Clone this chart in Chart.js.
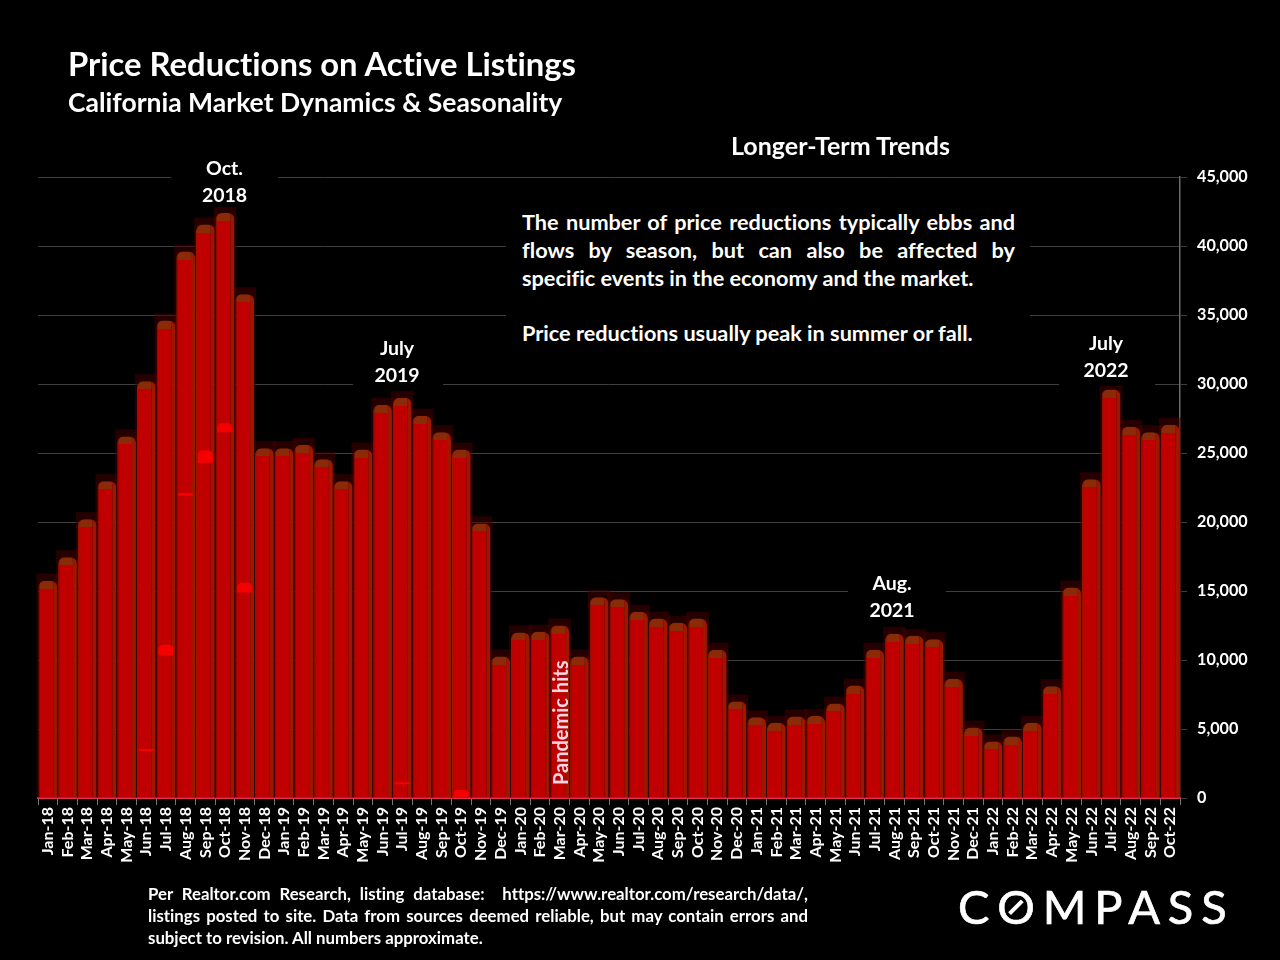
<!DOCTYPE html>
<html><head><meta charset="utf-8">
<script src="https://cdn.jsdelivr.net/npm/chart.js@4/dist/chart.umd.min.js"></script>
<style>
html,body{margin:0;padding:0;background:#000;width:1280px;height:960px;overflow:hidden}
#wrap{position:relative;width:1280px;height:960px;font-family:Lato,Carlito,sans-serif;color:#fff;font-weight:700;font-variant-ligatures:none}
canvas{position:absolute;left:0;top:0}
.t{position:absolute;white-space:nowrap}
.box{position:absolute;background:#000}
.c{text-align:center;font-size:19.5px}
.j{text-align:justify;text-align-last:justify;white-space:normal}
.logo{font-weight:400;font-size:47px;line-height:47px;letter-spacing:7.9px;-webkit-text-stroke:.7px #fff}
.o{position:relative;display:inline-block}
.o i{position:absolute;left:50%;top:50%;width:3.5px;height:18px;margin:-9px 0 0 -6px;background:#fff;transform:rotate(45deg)}
</style></head><body><div id="wrap">
<canvas id="c" width="1280" height="960"></canvas>
<div class="t" style="left:68px;top:46px;font-size:32.8px;line-height:36px">Price Reductions on Active Listings</div>
<div class="t" style="left:68px;top:87px;font-size:26.5px;line-height:30px">California Market Dynamics &amp; Seasonality</div>
<div class="t" style="left:731px;top:130px;font-size:25px;line-height:30px">Longer-Term Trends</div>

<div class="box" style="left:171px;top:155px;width:107px;height:52px"></div>
<div class="t c" style="left:171px;width:107px;top:154px;line-height:27px">Oct.<br>2018</div>
<div class="box" style="left:353px;top:335px;width:90px;height:52px"></div>
<div class="t c" style="left:352px;width:90px;top:334px;line-height:27px">July<br>2019</div>
<div class="box" style="left:848px;top:570px;width:98px;height:52px"></div>
<div class="t c" style="left:843px;width:98px;top:569px;line-height:27px">Aug.<br>2021</div>
<div class="box" style="left:1059px;top:330px;width:96px;height:56px"></div>
<div class="t c" style="left:1058px;width:96px;top:329px;line-height:27px">July<br>2022</div>

<div class="box" style="left:506px;top:207px;width:524px;height:145px"></div>
<div class="t j" style="left:522px;top:208px;width:493px;font-size:21.7px;line-height:28px">The number of price reductions typically ebbs and</div>
<div class="t j" style="left:522px;top:236px;width:493px;font-size:21.7px;line-height:28px">flows by season, but can also be affected by</div>
<div class="t" style="left:522px;top:264px;font-size:21.7px;line-height:28px">specific events in the economy and the market.</div>
<div class="t" style="left:522px;top:319px;font-size:21.7px;line-height:28px">Price reductions usually peak in summer or fall.</div>

<div class="t" style="left:550px;top:785px;font-size:20px;line-height:20px;color:#ffd6e4;transform-origin:0 0;transform:rotate(-90deg)">Pandemic hits</div>

<div class="t j" style="left:148px;top:883px;width:660px;font-size:16.8px;line-height:22px">Per Realtor.com Research, listing database: &nbsp;https://www.realtor.com/research/data/,</div>
<div class="t j" style="left:148px;top:905px;width:660px;font-size:16.8px;line-height:22px">listings posted to site. Data from sources deemed reliable, but may contain errors and</div>
<div class="t" style="left:148px;top:927px;font-size:16.8px;line-height:22px">subject to revision. All numbers approximate.</div>

<div class="t logo" style="left:958px;top:883px">C<span class="o">O<i></i></span>MPASS</div>
</div>
<script>
const months = ["Jan-18","Feb-18","Mar-18","Apr-18","May-18","Jun-18","Jul-18","Aug-18","Sep-18","Oct-18","Nov-18","Dec-18",
"Jan-19","Feb-19","Mar-19","Apr-19","May-19","Jun-19","Jul-19","Aug-19","Sep-19","Oct-19","Nov-19","Dec-19",
"Jan-20","Feb-20","Mar-20","Apr-20","May-20","Jun-20","Jul-20","Aug-20","Sep-20","Oct-20","Nov-20","Dec-20",
"Jan-21","Feb-21","Mar-21","Apr-21","May-21","Jun-21","Jul-21","Aug-21","Sep-21","Oct-21","Nov-21","Dec-21",
"Jan-22","Feb-22","Mar-22","Apr-22","May-22","Jun-22","Jul-22","Aug-22","Sep-22","Oct-22"];
const reductions = [15750,17450,20200,22950,26200,30200,34600,39600,41550,42400,36500,25350,
25350,25600,24550,22950,25250,28500,29000,27700,26500,25250,19900,10250,
12000,12050,12500,10250,14550,14400,13500,13000,12700,13000,10750,7000,
5850,5450,5900,5950,6850,8150,10750,11900,11750,11500,8650,5100,
4100,4450,5450,8100,15250,23100,29600,26900,26500,27050];
// Brighter patches visible inside some bars: [low, high] by month
const brightMonths = {"Jun-18":[3400,3550],"Jul-18":[10350,11100],"Aug-18":[21900,22100],"Sep-18":[24300,25200],"Oct-18":[26500,27150],"Nov-18":[14900,15600],"Jul-19":[1000,1150],"Oct-19":[0,580]};
const brightValues = months.map(m => brightMonths[m] || null);

const capPx = 8;
function barFill(ctx){
  if(ctx.type!=='data') return '#c00000';
  const chart=ctx.chart, s=chart.scales.y;
  if(!s||s.bottom===undefined) return '#c00000';
  const top=s.getPixelForValue(ctx.raw), bottom=s.getPixelForValue(0);
  const g=chart.ctx.createLinearGradient(0,top,0,bottom);
  const f=Math.min(capPx/Math.max(bottom-top,1),.5);
  g.addColorStop(0,'#8a2a06');g.addColorStop(f,'#8a2a06');g.addColorStop(f,'#c00000');g.addColorStop(1,'#c00000');
  return g;
}
// Dark-red halo behind each bar, taken from the bar elements the library laid out
const halo={id:'halo',
 beforeDatasetsDraw(c){
  const meta=c.getDatasetMeta(0), ctx=c.ctx;
  ctx.save();
  ctx.fillStyle='rgba(70,0,0,.55)';
  meta.data.forEach(el=>{
    const w=el.width;
    ctx.fillRect(el.x-w/2-2,el.y-7,w+4,el.base-el.y+7);
  });
  ctx.restore();
 }
};
new Chart(document.getElementById('c'),{
 type:'bar',
 plugins:[halo],
 data:{labels:months,datasets:[
  {label:'Price reductions',data:reductions,backgroundColor:barFill,borderColor:'#9c1700',borderWidth:{left:1,right:4,top:0,bottom:0},borderSkipped:'bottom',borderRadius:{topLeft:6,topRight:6},barPercentage:.95,categoryPercentage:1,order:2},
  {label:'Highlights',data:brightValues,backgroundColor:'#f50000',borderWidth:0,borderRadius:{topLeft:5,topRight:5},borderSkipped:'bottom',barPercentage:.78,categoryPercentage:1,order:1}
 ]},
 options:{
  responsive:false,animation:false,devicePixelRatio:1,
  layout:{autoPadding:false,padding:{left:38,top:177,right:0,bottom:0}},
  plugins:{legend:{display:false},title:{display:false},tooltip:{enabled:false}},
  datasets:{bar:{grouped:false}},
  scales:{
   x:{offset:true,
    afterFit(s){s.height=162;},
    border:{color:'#e0304f',width:2},
    grid:{drawOnChartArea:false,drawTicks:true,tickLength:7,color:'#777',offset:true},
    ticks:{autoSkip:false,minRotation:90,maxRotation:90,color:'#fff',padding:2,font:{family:'Lato',weight:'bold',size:16}}
   },
   y:{position:'right',min:0,max:45000,
    afterFit(s){s.width=100;},
    border:{color:'#6a6a6a',width:1.5},
    grid:{color:'#3e3e3e',lineWidth:1,tickLength:7},
    ticks:{stepSize:5000,color:'#fff',padding:10,font:{family:'Lato',weight:'bold',size:16.2}}
   }
  }
 }
});
</script></body></html>
